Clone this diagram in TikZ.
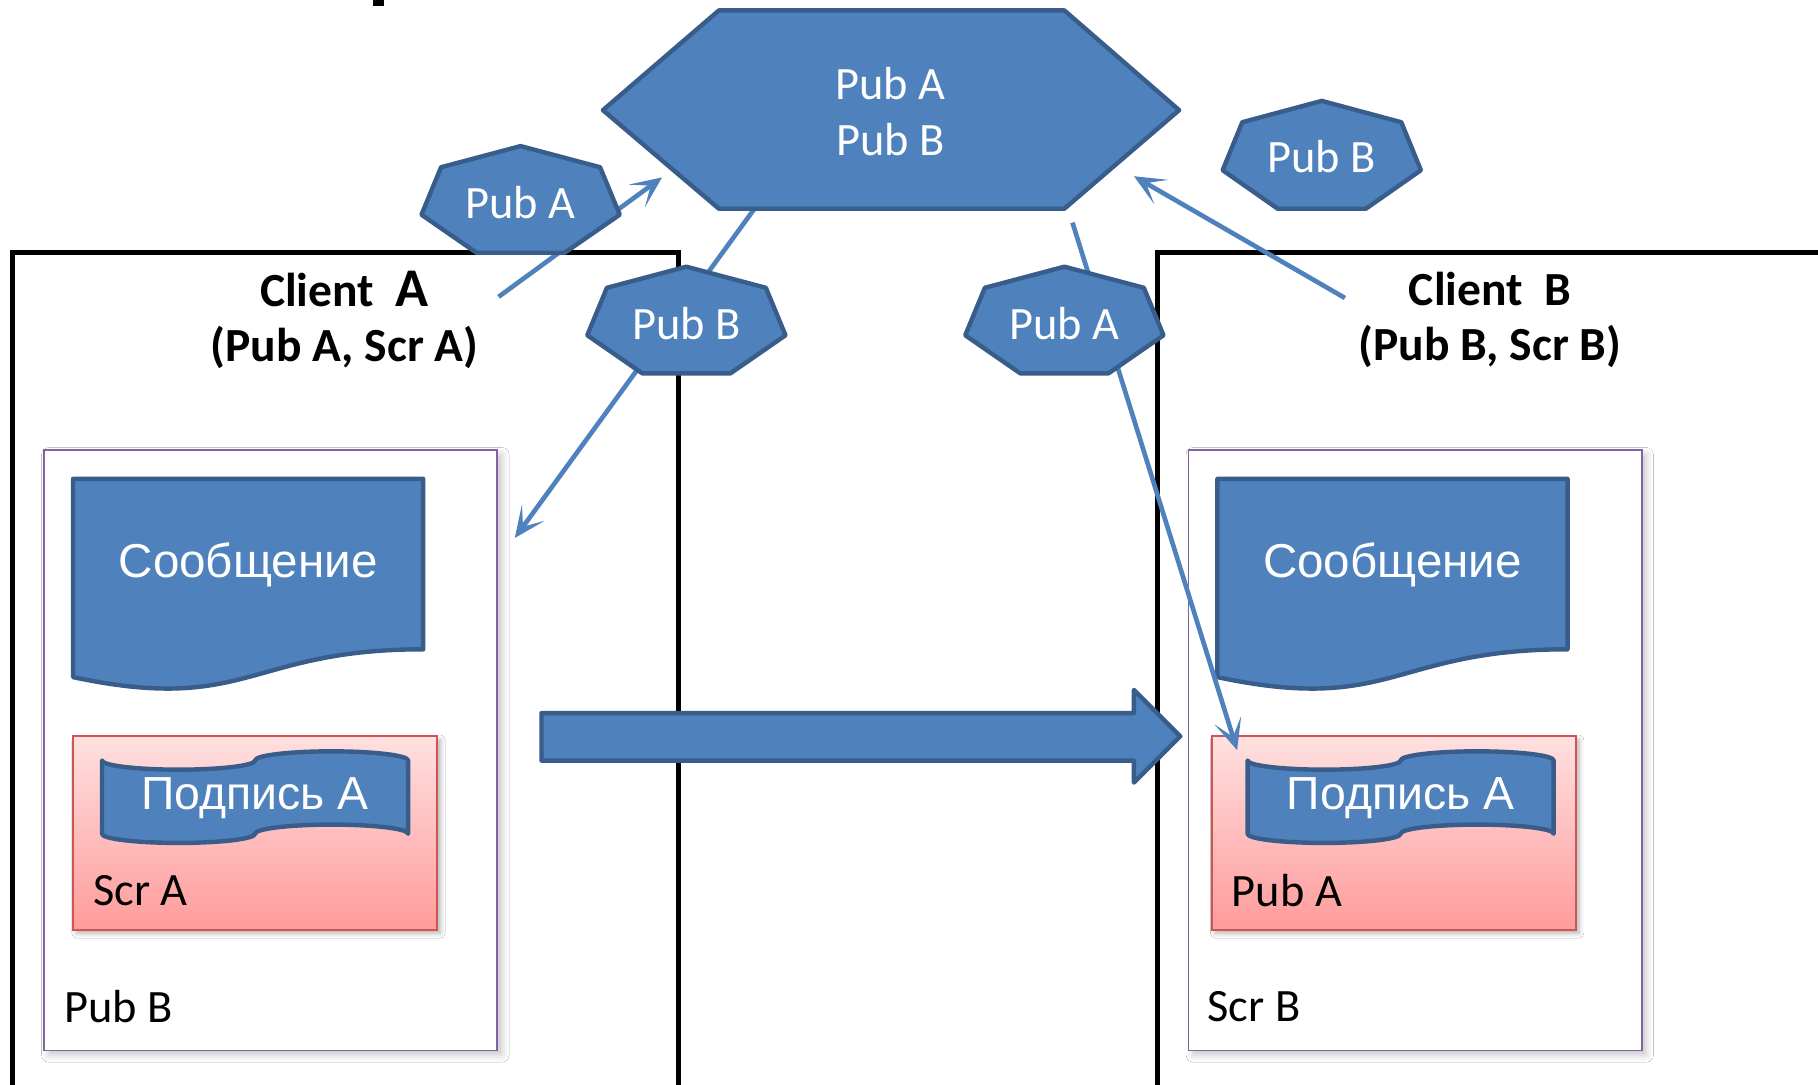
\documentclass[tikz,border=0pt]{standalone}
\usepackage{fontspec}
\setmainfont{Carlito}
\newfontfamily\arialfont{Liberation Sans}
\usetikzlibrary{arrows.meta,shadows.blur}

\definecolor{hexfill}{HTML}{4F81BD}
\definecolor{hexline}{HTML}{385D8A}
\definecolor{framecol}{HTML}{8064A2}
\definecolor{pinktop}{RGB}{255,224,224}
\definecolor{pinkbot}{RGB}{255,155,155}
\definecolor{pinkline}{RGB}{205,85,82}

% stretched heptagon: #1 centre x, #2 top y, #3 half width, #4 height
\newcommand{\heptpath}[4]{%
  \path[shapeblue] (#1,#2)
    -- ({#1+0.802*#3},{#2+0.198*#4})
    -- ({#1+#3},{#2+0.643*#4})
    -- ({#1+0.445*#3},{#2+#4})
    -- ({#1-0.445*#3},{#2+#4})
    -- ({#1-#3},{#2+0.643*#4})
    -- ({#1-0.802*#3},{#2+0.198*#4}) -- cycle;}

% punched-tape outline in a 20 x 20 grid
\newcommand{\tapepath}{%
  (0,2) .. controls (0,3.1046) and (2.2385,4) .. (5,4)
  .. controls (7.7615,4) and (10,3.1046) .. (10,2)
  .. controls (10,0.8954) and (12.2385,0) .. (15,0)
  .. controls (17.7615,0) and (20,0.8954) .. (20,2)
  -- (20,18)
  .. controls (20,16.8954) and (17.7615,16) .. (15,16)
  .. controls (12.2385,16) and (10,16.8954) .. (10,18)
  .. controls (10,19.1046) and (7.7615,20) .. (5,20)
  .. controls (2.2385,20) and (0,19.1046) .. (0,18) -- cycle}

\tikzset{
  shapeblue/.style={fill=hexfill, draw=hexline, line width=3.8pt, line join=round},
  clientbox/.style={draw=black, line width=4.5pt},
  innerbox/.style={draw=framecol, line width=1.6pt, fill=white,
    blur shadow={shadow xshift=4pt, shadow yshift=-4pt, shadow blur radius=6pt, shadow opacity=22}},
  keybox/.style={top color=pinktop, bottom color=pinkbot, draw=pinkline, line width=1.6pt,
    blur shadow={shadow xshift=3pt, shadow yshift=-3pt, shadow blur radius=4pt, shadow opacity=30}},
  link/.style={draw=hexfill, line width=4pt, -{Stealth[length=27pt,width=24pt,inset=15pt]}},
  keylabel/.style={text=white, font=\fontsize{40}{48}\selectfont, align=center},
  doclabel/.style={text=white, font=\arialfont\fontsize{41}{48}\selectfont},
  plainlabel/.style={text=black, anchor=west, font=\fontsize{40}{48}\selectfont},
  clientlabel/.style={text=black, align=center, font=\bfseries\fontsize{41}{48}\selectfont}
}

\begin{document}
\begin{tikzpicture}[x=1pt,y=-1pt]
\useasboundingbox (0,0) rectangle (1568,935);
\clip (0,0) rectangle (1568,935);
\fill[white] (0,0) rectangle (1568,935);

% clipped piece of a heading above the picture
\fill[black] (322,0) rectangle (331,5);

% client frames
\path[clientbox] (11,218) rectangle (585,960);
\path[clientbox] (998,218) rectangle (1600,960);

% inner frames
\path[innerbox] (38,388) rectangle (429,906);
\path[innerbox] (1025,388) rectangle (1416,906);

% message documents
\path[shapeblue] (63,413) -- (365,413) -- (365,560)
  .. controls (214,560) and (214,616) .. (63,584) -- cycle;
\node[doclabel] (msgA) at (214,487) {Сообщение};
\path[shapeblue] (1050,413) -- (1352,413) -- (1352,560)
  .. controls (1201,560) and (1201,616) .. (1050,584) -- cycle;
\node[doclabel] (msgB) at (1201,487) {Сообщение};

% signature boxes
\path[keybox] (63,635) rectangle (377,802);
\path[keybox] (1045,635) rectangle (1359,802);
\begin{scope}[shift={(88,648)}, x=13.2pt, y=-3.95pt]
  \path[shapeblue] \tapepath;
\end{scope}
\begin{scope}[shift={(1076,648)}, x=13.2pt, y=-3.95pt]
  \path[shapeblue] \tapepath;
\end{scope}
\node[doclabel, font=\arialfont\fontsize{40}{48}\selectfont] (sigA) at (220,688) {Подпись А};
\node[doclabel, font=\arialfont\fontsize{40}{48}\selectfont] (sigB) at (1208,688) {Подпись А};
\node[plainlabel] (scrA) at (77,768) {Scr A};
\node[plainlabel] (pubAin) at (1059,768) {Pub A};
\node[plainlabel] (pubBout) at (52,868) {Pub B};
\node[plainlabel] (scrBout) at (1038,868) {Scr B};

% transfer arrow
\path[shapeblue] (467,615) -- (978,615) -- (978,595) -- (1018,635)
  -- (978,675) -- (978,656) -- (467,656) -- cycle;

% key exchange links
\coordinate (a1s) at (430,256); \coordinate (a1e) at (571,153);
\coordinate (a2s) at (650,181); \coordinate (a2e) at (444,464);
\coordinate (a3s) at (925,192); \coordinate (a3e) at (1067,647);
\coordinate (a4s) at (1160,257); \coordinate (a4e) at (978,152);
\draw[link] (a1s) -- (a1e);
\draw[link] (a2s) -- (a2e);
\draw[link] (a3s) -- (a3e);
\draw[link] (a4s) -- (a4e);

% key server
\path[shapeblue] (520,95) -- (620,9) -- (918,9) -- (1017,95) -- (918,180) -- (620,180) -- cycle;
\node[keylabel] (server) at (768,96) {Pub A\\Pub B};

% public keys in transit
\heptpath{449}{126}{85.5}{92}
\node[keylabel] (kA1) at (449,175) {Pub A};
\heptpath{592}{230}{85.5}{92}
\node[keylabel] (kB1) at (592,279) {Pub B};
\heptpath{918}{230}{85.5}{92}
\node[keylabel] (kA2) at (918,279) {Pub A};
\heptpath{1140}{87}{85.5}{93}
\node[keylabel] (kB2) at (1140,135) {Pub B};

% client captions
\node[clientlabel] (clientA) at (297,276)
  {Client\hspace{0.45em}{\fontsize{47}{48}\selectfont A}\\(Pub A, Scr A)};
\node[clientlabel] (clientB) at (1285,276)
  {Client\hspace{0.45em}B\\(Pub B, Scr B)};
\end{tikzpicture}
\end{document}
